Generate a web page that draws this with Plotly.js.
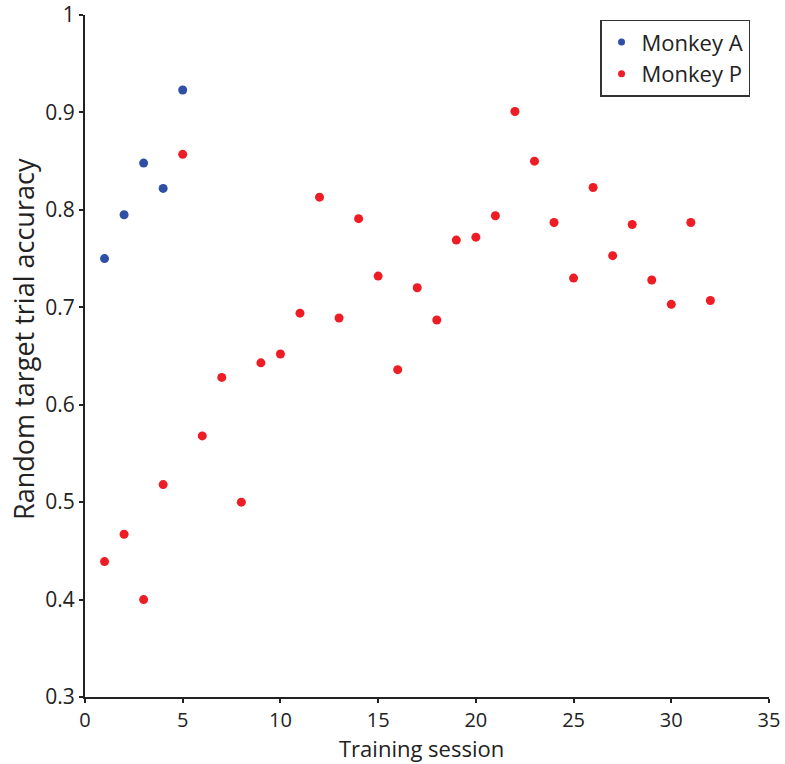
<!DOCTYPE html>
<html>
<head>
<meta charset="utf-8">
<script src="https://cdn.plot.ly/plotly-3.0.1.min.js"></script>
<style>html,body{margin:0;padding:0;background:#fff}#chart{width:785px;height:764px}</style>
</head>
<body>
<div id="chart"></div>
<script>
const sessionsA = [1, 2, 3, 4, 5];
const accuracyA = [0.750, 0.795, 0.848, 0.822, 0.923];
const sessionsP = [1, 2, 3, 4, 5, 6, 7, 8, 9, 10, 11, 12, 13, 14, 15, 16, 17, 18, 19, 20, 21, 22, 23, 24, 25, 26, 27, 28, 29, 30, 31, 32];
const accuracyP = [0.439, 0.467, 0.400, 0.518, 0.857, 0.568, 0.628, 0.500, 0.643, 0.652, 0.694, 0.813, 0.689, 0.791, 0.732, 0.636, 0.720, 0.687, 0.769, 0.772, 0.794, 0.901, 0.850, 0.787, 0.730, 0.823, 0.753, 0.785, 0.728, 0.703, 0.787, 0.707];
const xTicks = [0, 5, 10, 15, 20, 25, 30, 35];
const yTicks = [0.3, 0.4, 0.5, 0.6, 0.7, 0.8, 0.9, 1];
const yTickLabels = ['0.3', '0.4', '0.5', '0.6', '0.7', '0.8', '0.9', '1'];
const seriesNames = ['Monkey A', 'Monkey P'];
const seriesColors = ['#2e4fa5', '#ee1c24'];

const font = 'Open Sans, Lato, sans-serif';
const traces = [
  {x: sessionsA, y: accuracyA, mode: 'markers', type: 'scatter', name: seriesNames[0],
   marker: {color: seriesColors[0], size: 9}, cliponaxis: false, showlegend: false},
  {x: sessionsP, y: accuracyP, mode: 'markers', type: 'scatter', name: seriesNames[1],
   marker: {color: seriesColors[1], size: 9}, cliponaxis: false, showlegend: false},
  {x: [null], y: [null], mode: 'markers', type: 'scatter', name: seriesNames[0],
   marker: {color: seriesColors[0], size: 7}},
  {x: [null], y: [null], mode: 'markers', type: 'scatter', name: seriesNames[1],
   marker: {color: seriesColors[1], size: 7}}
];
const layout = {
  width: 785, height: 764,
  margin: {l: 85, r: 16, t: 15, b: 67},
  paper_bgcolor: '#fff', plot_bgcolor: '#fff',
  font: {family: font, size: 20, color: '#222'},
  showlegend: true,
  legend: {x: 0.753, y: 0.993, xanchor: 'left', yanchor: 'top',
    bordercolor: '#333', borderwidth: 1.5, bgcolor: '#fff',
    font: {family: font, size: 22, color: '#222'},
    tracegroupgap: 0},
  xaxis: {range: [0, 35], tickvals: xTicks, ticks: 'outside', ticklen: 4, tickwidth: 1.5,
    tickcolor: '#222', showline: true, linecolor: '#222', linewidth: 2, showgrid: false,
    zeroline: false, tickfont: {size: 20}},
  yaxis: {range: [0.3, 1], tickvals: yTicks, ticktext: yTickLabels, ticks: 'outside', ticklen: 4,
    tickwidth: 1.5, tickcolor: '#222', showline: true, linecolor: '#222', linewidth: 2,
    showgrid: false, zeroline: false, tickfont: {size: 21}},
  annotations: [
    {text: 'Training session', xref: 'paper', yref: 'paper', x: 0.492, y: -0.0755,
     xanchor: 'center', yanchor: 'middle', showarrow: false, font: {size: 22, color: '#222'}},
    {text: 'Random target trial accuracy', xref: 'paper', yref: 'paper', x: -0.0892, y: 0.525,
     xanchor: 'center', yanchor: 'middle', textangle: -90, showarrow: false,
     font: {size: 27, color: '#222'}}
  ]
};
Plotly.newPlot('chart', traces, layout, {displayModeBar: false});
</script>
</body>
</html>
